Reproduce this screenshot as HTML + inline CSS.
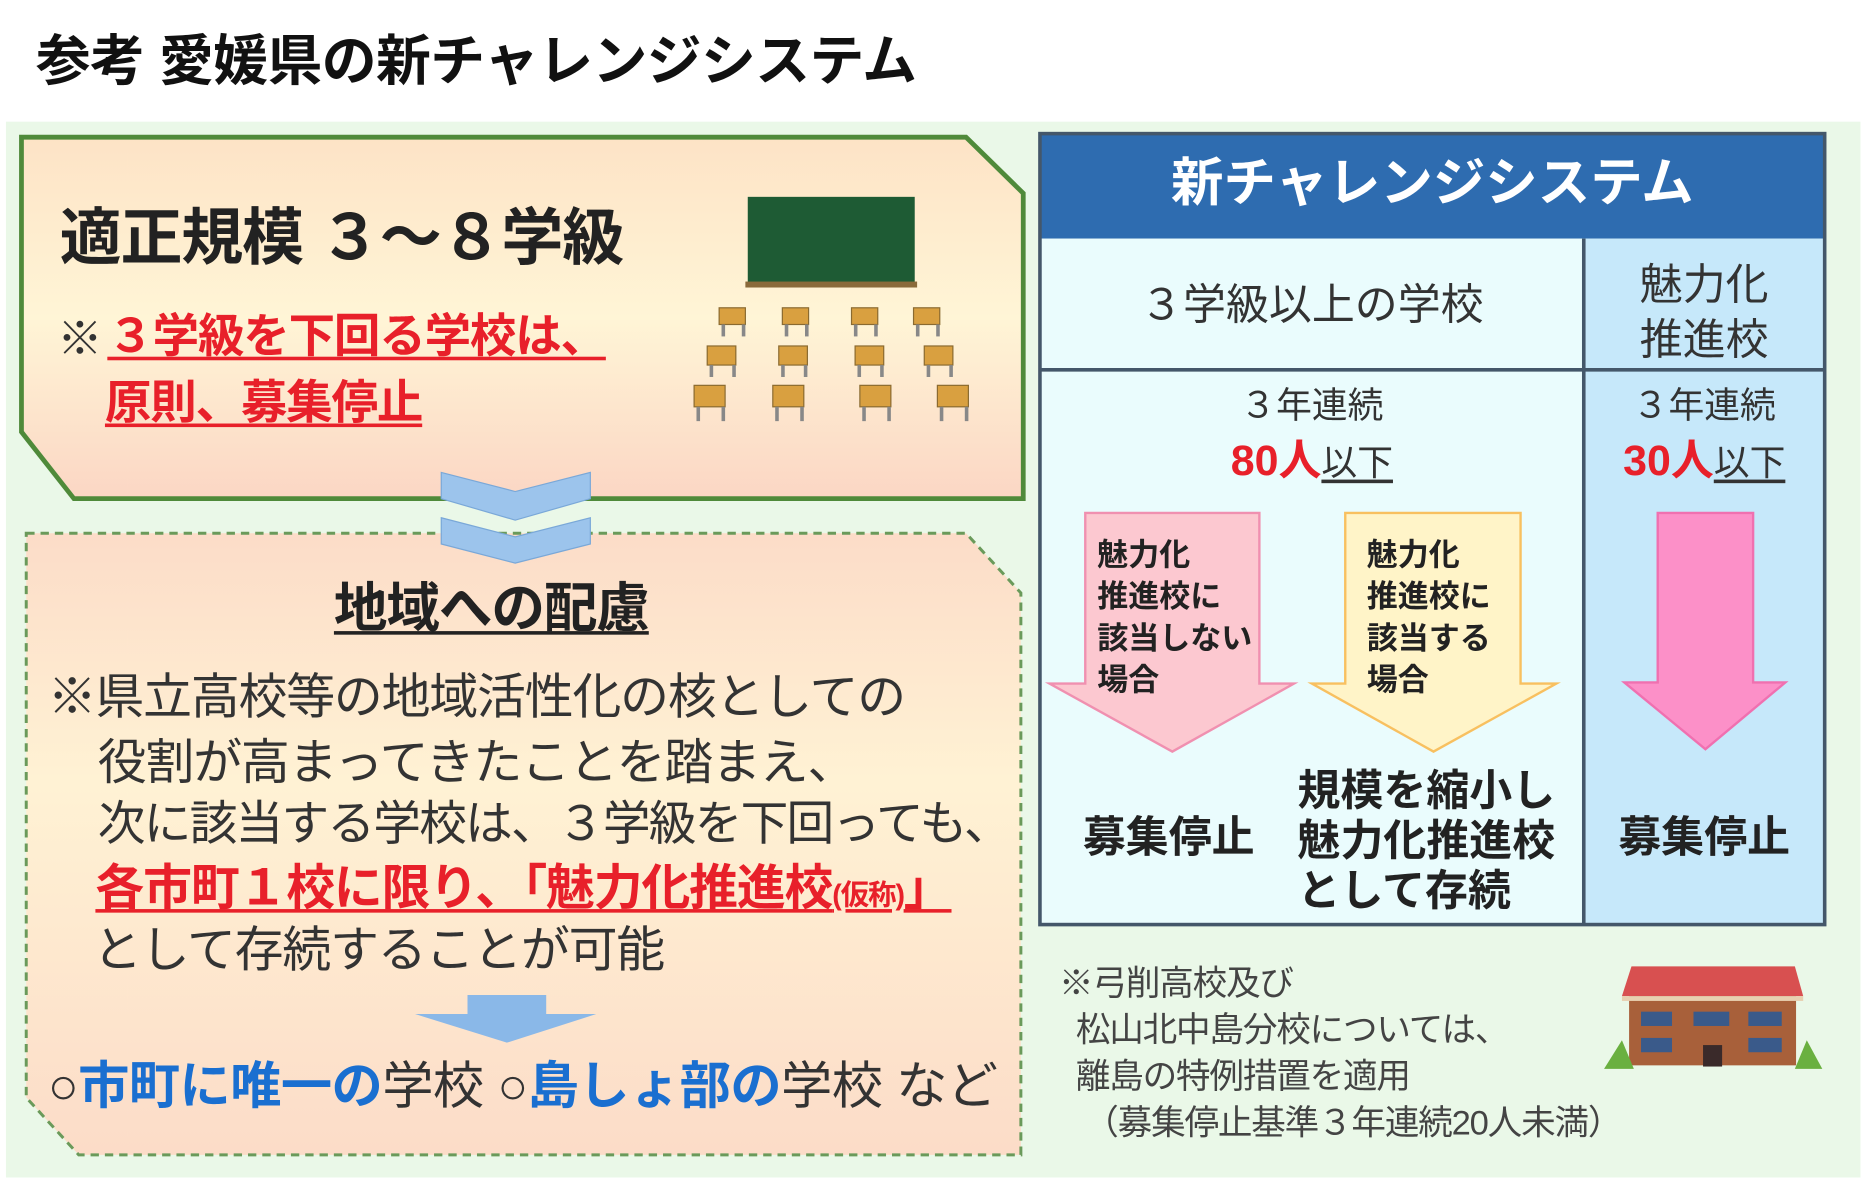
<!DOCTYPE html>
<html><head><meta charset="utf-8"><style>
html,body{margin:0;padding:0;background:#fff;width:1870px;height:1187px;overflow:hidden}
#w{position:absolute;left:0;top:0;width:1568px;height:995px;transform:scale(1.1926,1.193);transform-origin:0 0;font-family:"Liberation Sans","Noto Sans CJK JP",sans-serif;}
.t{position:absolute;white-space:nowrap;line-height:1}
.b{font-weight:bold}
.r{color:#e8202a}
.u{text-decoration:underline;text-decoration-thickness:3px;text-underline-offset:4px}
.bl{color:#1a6fd0}
</style></head><body><div id="w">
<div class="t b" style="left:30px;top:28px;font-size:46px;color:#111;letter-spacing:-0.5px">参考 愛媛県の新チャレンジシステム</div>
<div style="position:absolute;left:5px;top:102px;width:1555px;height:885px;background:#eaf8e8"></div>
<svg style="position:absolute;left:0;top:0" width="1568" height="995">
<defs>
<linearGradient id="g1" x1="0" y1="0" x2="0" y2="1"><stop offset="0" stop-color="#fde3c6"/><stop offset=".5" stop-color="#fff5d6"/><stop offset="1" stop-color="#fbd6c4"/></linearGradient>
<linearGradient id="g2" x1="0" y1="0" x2="0" y2="1"><stop offset="0" stop-color="#fcdcc8"/><stop offset=".4" stop-color="#fff2d4"/><stop offset="1" stop-color="#fcdcc8"/></linearGradient>
</defs>
<polygon points="18,115 810,115 858,162 858,418 62,418 18,362" fill="url(#g1)" stroke="#4f8a3a" stroke-width="4"/>
<polygon points="22,447 810,447 856,497 856,968 66,968 22,920" fill="url(#g2)" stroke="#6a9a5a" stroke-width="2.5" stroke-dasharray="7,5"/>
<rect x="627" y="165" width="140" height="72" fill="#1e5b34"/><rect x="625" y="236" width="144" height="5" fill="#8a6a3a"/>
<g fill="#d9a040" stroke="#8a6a30" stroke-width="1">
<rect x="603" y="258" width="22" height="14"/><rect x="656" y="258" width="22" height="14"/><rect x="714" y="258" width="22" height="14"/><rect x="766" y="258" width="22" height="14"/>
<rect x="593" y="290" width="24" height="16"/><rect x="653" y="290" width="24" height="16"/><rect x="717" y="290" width="24" height="16"/><rect x="775" y="290" width="24" height="16"/>
<rect x="582" y="323" width="26" height="18"/><rect x="648" y="323" width="26" height="18"/><rect x="721" y="323" width="26" height="18"/><rect x="786" y="323" width="26" height="18"/>
</g>
<g fill="#888"><rect x="605" y="272" width="3" height="10"/><rect x="622" y="272" width="3" height="10"/><rect x="658" y="272" width="3" height="10"/><rect x="675" y="272" width="3" height="10"/><rect x="716" y="272" width="3" height="10"/><rect x="733" y="272" width="3" height="10"/><rect x="768" y="272" width="3" height="10"/><rect x="785" y="272" width="3" height="10"/>
<rect x="595" y="306" width="3" height="10"/><rect x="614" y="306" width="3" height="10"/><rect x="655" y="306" width="3" height="10"/><rect x="674" y="306" width="3" height="10"/><rect x="719" y="306" width="3" height="10"/><rect x="738" y="306" width="3" height="10"/><rect x="777" y="306" width="3" height="10"/><rect x="796" y="306" width="3" height="10"/>
<rect x="584" y="341" width="3" height="12"/><rect x="605" y="341" width="3" height="12"/><rect x="650" y="341" width="3" height="12"/><rect x="671" y="341" width="3" height="12"/><rect x="723" y="341" width="3" height="12"/><rect x="744" y="341" width="3" height="12"/><rect x="788" y="341" width="3" height="12"/><rect x="809" y="341" width="3" height="12"/></g>
<polygon points="370,396 432,412 495,396 495,418 432,436 370,418" fill="#9cc4ec" stroke="#7aa8d8"/>
<polygon points="370,434 432,450 495,434 495,456 432,472 370,456" fill="#9cc4ec" stroke="#7aa8d8"/>
<polygon points="392,834 458,834 458,850 500,850 425,874 348,850 392,850" fill="#8ab8e8"/>
<rect x="872" y="112" width="658" height="88" fill="#2e6cb0"/>
<rect x="872" y="200" width="456" height="575" fill="#eafcfd"/>
<rect x="1328" y="200" width="202" height="575" fill="#c6e8fa"/>
<g stroke="#44576a" stroke-width="3" fill="none">
<rect x="872" y="112" width="658" height="663"/>
<line x1="872" y1="310" x2="1530" y2="310"/><line x1="1328" y1="200" x2="1328" y2="775"/>
</g>
<polygon points="910,430 1056,430 1056,573 1085,573 983,630 880,573 910,573" fill="#fcc8d0" stroke="#f090b0" stroke-width="2"/>
<polygon points="1128,430 1275,430 1275,573 1305,573 1202,630 1100,573 1128,573" fill="#fff4c8" stroke="#f8c060" stroke-width="2"/>
<polygon points="1390,430 1470,430 1470,572 1497,572 1430,628 1362,572 1390,572" fill="#fc90c8" stroke="#f070b0" stroke-width="2"/>
<polygon points="1368,810 1505,810 1512,835 1360,835" fill="#d85050"/>
<rect x="1366" y="835" width="140" height="58" fill="#a8603a"/>
<rect x="1360" y="835" width="152" height="4" fill="#e8d0b0"/>
<g fill="#3a5a8a"><rect x="1376" y="848" width="26" height="12"/><rect x="1420" y="848" width="30" height="12"/><rect x="1466" y="848" width="28" height="12"/><rect x="1376" y="870" width="26" height="12"/><rect x="1466" y="870" width="28" height="12"/></g>
<rect x="1428" y="876" width="16" height="18" fill="#3a2a2a"/>
<polygon points="1345,896 1360,872 1370,896" fill="#6ab040"/><polygon points="1505,896 1515,872 1528,896" fill="#6ab040"/>
</svg>
<div class="t b" style="left:50px;top:174px;font-size:52px;color:#222;letter-spacing:-1px">適正規模 ３～８学級</div>
<div class="t" style="left:48px;top:266px;font-size:38px;color:#333">※</div>
<div class="t b r u" style="left:90px;top:263px;font-size:39px;letter-spacing:-1px">３学級を下回る学校は、</div>
<div class="t b r u" style="left:88px;top:319px;font-size:39px;letter-spacing:-1px">原則、募集停止</div>
<div class="t b u" style="left:280px;top:487px;font-size:45px;color:#222;letter-spacing:-1px">地域への配慮</div>
<div class="t" style="left:40px;top:564px;font-size:41px;color:#333;letter-spacing:-1px">※県立高校等の地域活性化の核としての</div>
<div class="t" style="left:82px;top:619px;font-size:41px;color:#333;letter-spacing:-1px">役割が高まってきたことを踏まえ、</div>
<div class="t" style="left:82px;top:671px;font-size:40px;color:#333;letter-spacing:-1.5px">次に該当する学校は、３学級を下回っても、</div>
<div class="t b r u" style="left:80px;top:724px;font-size:41px;letter-spacing:-1px">各市町１校に限り、「魅力化推進校<span style="font-size:24px">(仮称)</span>」</div>
<div class="t" style="left:78px;top:776px;font-size:41px;color:#333;letter-spacing:-1px">として存続することが可能</div>
<div class="t" style="left:40px;top:890px;font-size:43px;color:#333;letter-spacing:-0.5px">○<span class="b bl">市町に唯一の</span>学校 ○<span class="b bl">島しょ部の</span>学校 など</div>
<div class="t b" style="left:872px;top:132px;width:658px;text-align:center;font-size:44px;color:#fff">新チャレンジシステム</div>
<div class="t" style="left:872px;top:238px;width:456px;text-align:center;font-size:36px;color:#333">３学級以上の学校</div>
<div class="t" style="left:1328px;top:216px;width:202px;text-align:center;font-size:36px;color:#333;line-height:46px">魅力化<br>推進校</div>
<div class="t" style="left:872px;top:326px;width:456px;text-align:center;font-size:30px;color:#333">３年連続</div>
<div class="t" style="left:872px;top:368px;width:456px;text-align:center;font-size:36px;color:#333"><span class="b r">80人</span><span class="u" style="font-size:30px">以下</span></div>
<div class="t" style="left:1328px;top:326px;width:202px;text-align:center;font-size:30px;color:#333">３年連続</div>
<div class="t" style="left:1328px;top:368px;width:202px;text-align:center;font-size:36px;color:#333"><span class="b r">30人</span><span class="u" style="font-size:30px">以下</span></div>
<div class="t b" style="left:920px;top:448px;font-size:26px;color:#222;line-height:35px">魅力化<br>推進校に<br>該当しない<br>場合</div>
<div class="t b" style="left:1146px;top:448px;font-size:26px;color:#222;line-height:35px">魅力化<br>推進校に<br>該当する<br>場合</div>
<div class="t b" style="left:880px;top:684px;width:200px;text-align:center;font-size:36px;color:#222">募集停止</div>
<div class="t b" style="left:1088px;top:642px;font-size:36px;color:#222;line-height:42px">規模を縮小し<br>魅力化推進校<br>として存続</div>
<div class="t b" style="left:1328px;top:684px;width:202px;text-align:center;font-size:36px;color:#222">募集停止</div>
<div class="t" style="left:888px;top:806px;font-size:29px;color:#444;line-height:39px;letter-spacing:-1px">※弓削高校及び<br>&nbsp;&nbsp;松山北中島分校については、<br>&nbsp;&nbsp;離島の特例措置を適用<br>&nbsp;&nbsp;&nbsp;（募集停止基準３年連続20人未満）</div>
</div></body></html>
